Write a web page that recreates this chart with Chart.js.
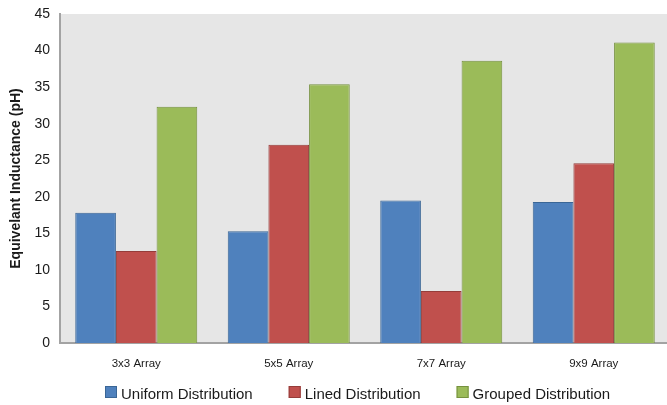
<!DOCTYPE html>
<html>
<head>
<meta charset="utf-8">
<script src="https://cdn.jsdelivr.net/npm/chart.js@4.4.1/dist/chart.umd.min.js"></script>
<style>
  html, body { margin: 0; padding: 0; background: #fff; overflow: hidden; }
  #wrap { position: relative; width: 670px; height: 405px; }
</style>
</head>
<body>
<div id="wrap"><canvas id="inductanceChart"></canvas></div>
<script>
const arraySizes = ['3x3 Array', '5x5 Array', '7x7 Array', '9x9 Array'];
const uniformValues = [17.8, 15.3, 19.5, 19.3];
const linedValues = [12.6, 27.1, 7.1, 24.6];
const groupedValues = [32.3, 35.4, 38.6, 41.1];
const seriesNames = ['Uniform Distribution', 'Lined Distribution', 'Grouped Distribution'];
const yMin = 0;
const yMax = 45;
const yStep = 5;

const SANS = '"Liberation Sans", Arial, sans-serif';

// grey plot background behind the bars
const plotBackground = {
  id: 'plotBackground',
  beforeDraw(chart) {
    const { ctx, chartArea } = chart;
    ctx.save();
    ctx.fillStyle = '#e6e6e6';
    ctx.fillRect(chartArea.left, chartArea.top, chartArea.right - chartArea.left, chartArea.bottom - chartArea.top);
    ctx.restore();
  }
};

// legend row under the axis, wider item spacing than the built-in one allows
const bottomLegend = {
  id: 'bottomLegend',
  afterDraw(chart) {
    const { ctx } = chart;
    const box = 12;
    const boxGap = 4;
    const itemGap = 36;
    const centerX = 358;
    const baseline = 399;
    ctx.save();
    ctx.font = '15px ' + SANS;
    ctx.textBaseline = 'alphabetic';
    const items = chart.data.datasets.map(ds => ({
      label: ds.label,
      fill: ds.backgroundColor,
      stroke: ds.borderColor,
      width: box + boxGap + ctx.measureText(ds.label).width
    }));
    const total = items.reduce((sum, it) => sum + it.width, 0) + itemGap * (items.length - 1);
    let x = Math.round(centerX - total / 2);
    items.forEach(it => {
      const top = baseline - 13;
      ctx.fillStyle = it.fill;
      ctx.fillRect(x, top, box, box);
      ctx.strokeStyle = it.stroke;
      ctx.lineWidth = 1;
      ctx.strokeRect(x + 0.5, top + 0.5, box - 1, box - 1);
      ctx.fillStyle = '#1a1a1a';
      ctx.fillText(it.label, x + box + boxGap, baseline);
      x += it.width + itemGap;
    });
    ctx.restore();
  }
};

const canvas = document.getElementById('inductanceChart');

new Chart(canvas, {
  type: 'bar',
  data: {
    labels: arraySizes,
    datasets: [
      {
        label: seriesNames[0],
        data: uniformValues,
        backgroundColor: '#4f81bd',
        borderColor: '#3a6696',
        borderWidth: 1
      },
      {
        label: seriesNames[1],
        data: linedValues,
        backgroundColor: '#c0504d',
        borderColor: '#953d3a',
        borderWidth: 1
      },
      {
        label: seriesNames[2],
        data: groupedValues,
        backgroundColor: '#9bbb59',
        borderColor: '#76913f',
        borderWidth: 1
      }
    ]
  },
  options: {
    responsive: true,
    maintainAspectRatio: false,
    animation: false,
    datasets: {
      bar: {
        categoryPercentage: 0.8,
        barPercentage: 1.0
      }
    },
    layout: {
      padding: { top: 14, right: 0, bottom: 28, left: 0 }
    },
    plugins: {
      legend: { display: false },
      tooltip: { enabled: false }
    },
    scales: {
      x: {
        grid: { display: false, drawTicks: false },
        border: { display: true, color: '#a3a3a3', width: 2 },
        ticks: {
          padding: 14,
          color: '#1a1a1a',
          font: { family: SANS, size: 11.5 }
        },
        afterFit(scale) {
          scale.height = 34;
        }
      },
      y: {
        min: yMin,
        max: yMax,
        grid: { display: false, drawTicks: false },
        border: { display: true, color: '#a3a3a3', width: 2 },
        ticks: {
          stepSize: yStep,
          padding: 10,
          color: '#1a1a1a',
          font: { family: SANS, size: 14 }
        },
        title: {
          display: true,
          text: 'Equivelant Inductance (pH)',
          color: '#1a1a1a',
          padding: { top: 8, bottom: 0 },
          font: { family: SANS, size: 14, weight: 'bold' }
        },
        afterFit(scale) {
          scale.width = 60;
          // let the layout padding alone decide where the top of the plot sits
          scale.paddingTop = 0;
        }
      }
    }
  },
  plugins: [plotBackground, bottomLegend]
});
</script>
</body>
</html>
